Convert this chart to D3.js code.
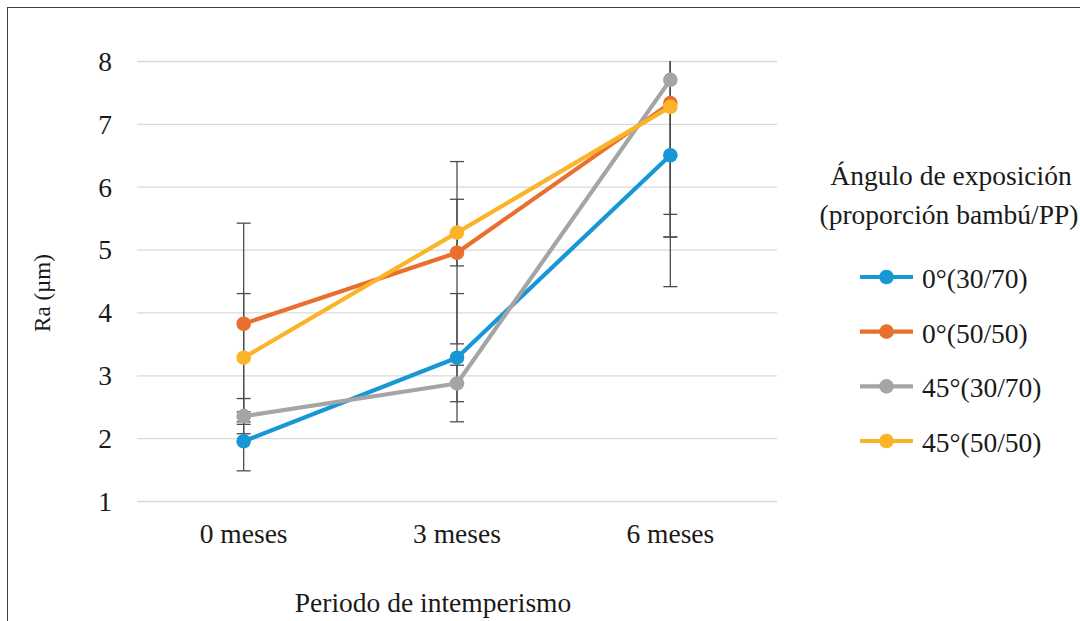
<!DOCTYPE html>
<html>
<head>
<meta charset="utf-8">
<script src="https://cdn.jsdelivr.net/npm/d3@7"></script>
</head>
<body style="margin:0;background:#fff">
<svg id="chart" width="1080" height="621" style="display:block"></svg>
<script>
// Weathering period (x categories)
const categories = ["0 meses", "3 meses", "6 meses"];
// Series names (exposure angle, bamboo/PP ratio)
const seriesNames = ["0°(30/70)", "0°(50/50)", "45°(30/70)", "45°(50/50)"];
// Mean surface roughness Ra (µm)
const ra_0_3070  = [1.95, 3.28, 6.50];
const ra_0_5050  = [3.82, 4.95, 7.33];
const ra_45_3070 = [2.35, 2.87, 7.70];
const ra_45_5050 = [3.28, 5.27, 7.27];
// Standard deviations (error bar half-lengths)
const sd_0_3070  = [0.47, 1.02, 2.09];
const sd_0_5050  = [1.60, 1.45, 2.13];
const sd_45_3070 = [0.28, 0.29, 2.14];
const sd_45_5050 = [1.02, 0.53, 2.07];
const yTicks = [1, 2, 3, 4, 5, 6, 7, 8];
const colors = ["#1797D6", "#E96F2E", "#A5A5A5", "#FBB428"];

const series = [
  { name: seriesNames[0], values: ra_0_3070,  sd: sd_0_3070,  color: colors[0] },
  { name: seriesNames[1], values: ra_0_5050,  sd: sd_0_5050,  color: colors[1] },
  { name: seriesNames[2], values: ra_45_3070, sd: sd_45_3070, color: colors[2] },
  { name: seriesNames[3], values: ra_45_5050, sd: sd_45_5050, color: colors[3] }
];

const FONT = '"Liberation Serif"';
const FS = "27.5px";
const TXT = "#1a1a1a";
const svg = d3.select("#chart");
const plot = { left: 137, right: 777, top: 61, bottom: 501 };

// Outer chart frame
svg.append("rect")
  .attr("x", 7.5).attr("y", 7.5)
  .attr("width", 1100).attr("height", 640)
  .attr("fill", "#fff").attr("stroke", "#404040").attr("stroke-width", 1);

const x = d3.scaleBand().domain(categories).range([plot.left, plot.right]);
const y = d3.scaleLinear().domain([1, 8]).range([plot.bottom, plot.top]);

svg.append("defs").append("clipPath").attr("id", "plotclip")
  .append("rect")
  .attr("x", plot.left).attr("y", plot.top)
  .attr("width", plot.right - plot.left).attr("height", plot.bottom - plot.top);

// Horizontal gridlines
svg.append("g")
  .attr("transform", `translate(${plot.left},0)`)
  .call(d3.axisLeft(y).tickValues(yTicks).tickSize(-(plot.right - plot.left)).tickFormat(""))
  .call(g => g.select(".domain").remove())
  .call(g => g.selectAll(".tick line").attr("stroke", "#D9D9D9").attr("stroke-width", 1.3));

// Y tick labels
svg.append("g")
  .attr("transform", `translate(112,0)`)
  .call(d3.axisLeft(y).tickValues(yTicks).tickSize(0).tickPadding(0).tickFormat(d3.format("d")))
  .call(g => g.select(".domain").remove())
  .call(g => g.selectAll(".tick text")
    .style("font-family", FONT).style("font-size", FS).attr("fill", TXT).attr("dy", "0.34em"));

// X category labels
svg.append("g")
  .attr("transform", `translate(0,${plot.bottom})`)
  .call(d3.axisBottom(x).tickSize(0).tickPadding(22))
  .call(g => g.select(".domain").remove())
  .call(g => g.selectAll(".tick text")
    .style("font-family", FONT).style("font-size", FS).attr("fill", TXT));

const cx = c => x(c) + x.bandwidth() / 2;

// Error bars (clipped at the top of the value axis)
const eb = svg.append("g").attr("clip-path", "url(#plotclip)");
series.forEach(s => {
  categories.forEach((c, i) => {
    const hi = s.values[i] + s.sd[i], lo = s.values[i] - s.sd[i];
    const g = eb.append("g").attr("stroke", "#4D4D4D").attr("stroke-width", 1.3);
    g.append("line").attr("x1", cx(c)).attr("x2", cx(c)).attr("y1", y(hi)).attr("y2", y(lo));
    [hi, lo].forEach(v => g.append("line")
      .attr("x1", cx(c) - 7).attr("x2", cx(c) + 7).attr("y1", y(v)).attr("y2", y(v)));
  });
});

// Series lines and markers
const line = d3.line().x((d, i) => cx(categories[i])).y(d => y(d));
series.forEach(s => {
  const g = svg.append("g");
  g.append("path").datum(s.values)
    .attr("d", line).attr("fill", "none")
    .attr("stroke", s.color).attr("stroke-width", 4.2).attr("stroke-linejoin", "round");
  g.selectAll("circle").data(s.values).join("circle")
    .attr("cx", (d, i) => cx(categories[i])).attr("cy", d => y(d))
    .attr("r", 7.3).attr("fill", s.color);
});

function label(sel) {
  return sel.style("font-family", FONT).style("font-size", FS).attr("fill", TXT);
}

// Axis titles
svg.append("text")
  .attr("transform", `translate(50,293) rotate(-90)`)
  .attr("text-anchor", "middle")
  .call(label).style("font-size", "23px")
  .text("Ra (µm)");
svg.append("text")
  .attr("x", 433).attr("y", 612).attr("text-anchor", "middle")
  .call(label)
  .text("Periodo de intemperismo");

// Legend
const lg = svg.append("g");
lg.append("text").attr("x", 951).attr("y", 185).attr("text-anchor", "middle").call(label)
  .text("Ángulo de exposición");
lg.append("text").attr("x", 949).attr("y", 224).attr("text-anchor", "middle").call(label)
  .text("(proporción bambú/PP)");
const legendY = d3.scalePoint().domain(seriesNames).range([277, 441]);
series.forEach(s => {
  const yy = legendY(s.name);
  lg.append("line").attr("x1", 860).attr("x2", 913).attr("y1", yy).attr("y2", yy)
    .attr("stroke", s.color).attr("stroke-width", 4.2);
  lg.append("circle").attr("cx", 886.5).attr("cy", yy).attr("r", 7.3).attr("fill", s.color);
  lg.append("text").attr("x", 922).attr("y", yy + 11).call(label).text(s.name);
});
</script>
</body>
</html>
